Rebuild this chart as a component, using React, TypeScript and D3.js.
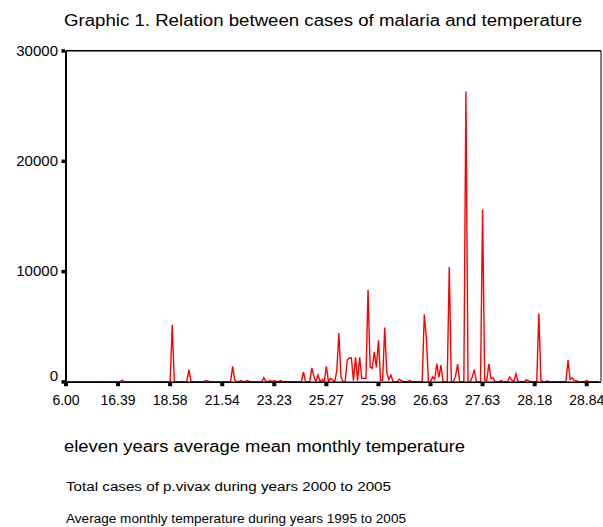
import React from "react";
import * as d3 from "d3";

// Cases of p.vivax for each temperature category (ordered by temperature)
const cases: number[] = [
  // 0-24
  0, 0, 0, 0, 0, 0, 0, 0, 0, 0, 0, 0, 0, 0, 0, 0, 0, 0, 0, 0, 0, 0, 0, 0, 0,
  // 25-49
  0, 0, 120, 0, 0, 0, 0, 0, 0, 0, 0, 0, 0, 0, 0, 0, 0, 0, 0, 0, 0, 0, 0, 0, 0,
  // 50-74
  0, 5150, 0, 0, 0, 0, 0, 0, 0, 1100, 0, 0, 0, 0, 0, 0, 0, 80, 60, 0, 0, 0, 0, 0, 0,
  // 75-99
  0, 0, 0, 0, 0, 1400, 150, 0, 0, 100, 0, 0, 100, 0, 0, 0, 0, 0, 0, 0, 350, 0, 0, 100, 0,
  // 100-124
  100, 0, 0, 100, 0, 0, 0, 0, 0, 0, 0, 0, 0, 0, 880, 0, 0, 0, 1250, 500, 0, 600, 0, 200, 0,
  // 125-149
  1400, 0, 300, 150, 0, 1000, 4400, 450, 0, 0, 1950, 2150, 2150, 100, 2200, 100, 2200, 300, 300, 300, 8300, 1340, 1200, 2700, 1300,
  // 150-174
  3750, 130, 150, 4900, 800, 200, 590, 0, 0, 0, 230, 100, 0, 0, 0, 100, 0, 0, 0, 0, 0, 0, 6100, 3950, 0,
  // 175-199
  0, 450, 200, 1650, 400, 1500, 0, 0, 0, 10400, 0, 0, 500, 1600, 0, 0, 0, 26300, 0, 0, 400, 1100, 0, 0, 0,
  // 200-224
  15600, 150, 100, 1620, 300, 350, 0, 0, 0, 100, 0, 0, 0, 430, 150, 0, 720, 0, 0, 0, 0, 180, 80, 0, 0,
  // 225-249
  0, 0, 6200, 100, 0, 0, 60, 0, 0, 0, 0, 0, 0, 0, 0, 0, 1950, 200, 350, 100, 100, 0, 0, 0, 0,
  // 250-256
  100, 0, 0, 0, 0, 0, 0,
];

// Temperature labels shown every 25 categories
const tempLabels: string[] = [
  "6.00", "16.39", "18.58", "21.54", "23.23", "25.27",
  "25.98", "26.63", "27.63", "28.18", "28.84",
];
const labelStep = 25;

const yTicks: number[] = [0, 10000, 20000, 30000];

const title = "Graphic 1. Relation between cases of malaria and temperature";
const xTitle = "eleven years average mean monthly temperature";
const note1 = "Total cases of p.vivax during years 2000 to 2005";
const note2 = "Average monthly temperature during years 1995 to 2005";

const W = 603;
const H = 527;
const plot = { left: 66, right: 601, top: 50.7, bottom: 381.7 };
const step = 2.083;

export default function App() {
  const x = d3
    .scaleLinear()
    .domain([0, cases.length - 1])
    .range([plot.left, plot.left + (cases.length - 1) * step]);
  const y = d3.scaleLinear().domain([0, 30000]).range([plot.bottom, plot.top]);

  const line = d3
    .line<number>()
    .x((_, i) => x(i))
    .y((d) => y(d));

  const font = "'Liberation Sans', Arial, sans-serif";

  return (
    <svg
      width={W}
      height={H}
      style={{ position: "absolute", left: 0, top: 0, background: "#fff" }}
      fontFamily={font}
    >
      <rect x={0} y={0} width={W} height={H} fill="#fff" />
      <text x={64} y={26} fontSize={16} fill="#000" textLength={518} lengthAdjust="spacingAndGlyphs">
        {title}
      </text>

      {/* frame */}
      <line x1={plot.left} x2={plot.right} y1={plot.top} y2={plot.top} stroke="#000" strokeWidth={1.5} />
      <line x1={plot.right} x2={plot.right} y1={plot.top} y2={plot.bottom} stroke="#000" strokeWidth={1} />

      {/* data line */}
      <path d={line(cases) ?? ""} fill="none" stroke="#ff0000" strokeWidth={1.4} strokeLinejoin="miter" />

      {/* axes */}
      <line x1={plot.left} x2={plot.left} y1={plot.top} y2={plot.bottom + 1} stroke="#000" strokeWidth={2} />
      <line x1={plot.left} x2={plot.right} y1={plot.bottom + 0.5} y2={plot.bottom + 0.5} stroke="#000" strokeWidth={1.6} />

      {/* y ticks */}
      {yTicks.map((t) => (
        <g key={t}>
          <rect x={plot.left - 4.5} y={y(t) - 1.5} width={3.5} height={3.5} fill="#000" />
          <text
            x={58}
            y={t === 0 ? y(t) - 1 : y(t) + 5}
            fontSize={15}
            textAnchor="end"
            fill="#000"
          >
            {t}
          </text>
        </g>
      ))}

      {/* x ticks */}
      {tempLabels.map((lab, k) => {
        const px = x(k * labelStep);
        return (
          <g key={lab}>
            <rect x={px - 2} y={plot.bottom + 1} width={4} height={3.5} fill="#000" />
            <text x={px} y={405} fontSize={14} textAnchor="middle" fill="#000">
              {lab}
            </text>
          </g>
        );
      })}

      <text x={64} y={452} fontSize={16} fill="#000" textLength={401} lengthAdjust="spacingAndGlyphs">
        {xTitle}
      </text>
      <text x={66} y={491} fontSize={12} fill="#000" textLength={325} lengthAdjust="spacingAndGlyphs">
        {note1}
      </text>
      <text x={66} y={523} fontSize={12} fill="#000" textLength={340} lengthAdjust="spacingAndGlyphs">
        {note2}
      </text>
    </svg>
  );
}
